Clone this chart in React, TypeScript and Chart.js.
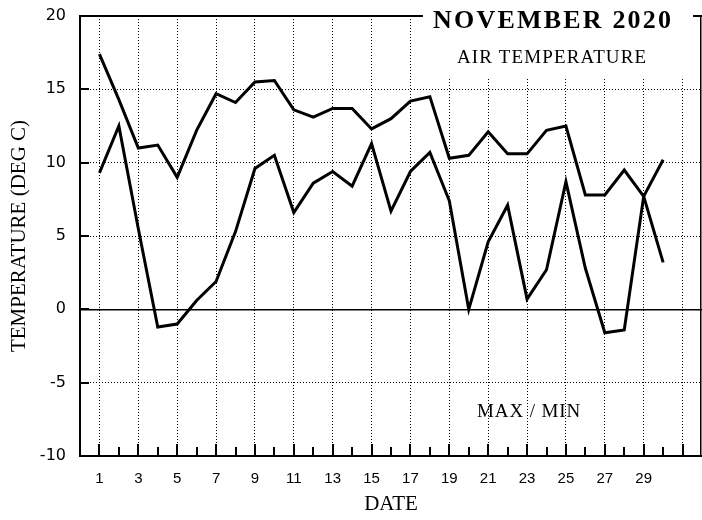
import { useEffect, useRef } from 'react';
import { Chart, registerables } from 'chart.js';

Chart.register(...registerables);

// ---- data ----
const days = [1, 2, 3, 4, 5, 6, 7, 8, 9, 10, 11, 12, 13, 14, 15, 16, 17, 18, 19, 20, 21, 22, 23, 24, 25, 26, 27, 28, 29, 30];
const maxTemp = [17.4, 14.3, 11.0, 11.2, 9.0, 12.2, 14.7, 14.1, 15.5, 15.6, 13.6, 13.1, 13.7, 13.7, 12.3, 13.0, 14.2, 14.5, 10.3, 10.5, 12.1, 10.6, 10.6, 12.2, 12.5, 7.8, 7.8, 9.5, 7.7, 3.2];
const minTemp = [9.3, 12.5, 5.5, -1.2, -1.0, 0.6, 1.9, 5.3, 9.6, 10.5, 6.6, 8.6, 9.4, 8.4, 11.3, 6.7, 9.4, 10.7, 7.4, 0.0, 4.6, 7.1, 0.7, 2.7, 8.7, 2.8, -1.6, -1.4, 7.7, 10.2];
const xTickLabels = [1, 3, 5, 7, 9, 11, 13, 15, 17, 19, 21, 23, 25, 27, 29];
const xGridDays = [1, 3, 5, 7, 9, 11, 13, 15, 17, 19, 21, 23, 25, 27, 29, 31];
const xTickMarkDays = [1, 2, 3, 4, 5, 6, 7, 8, 9, 10, 11, 12, 13, 14, 15, 16, 17, 18, 19, 20, 21, 22, 23, 24, 25, 26, 27, 28, 29, 30, 31];
const yTickMarks = [-5, 0, 5, 10, 15];
const xRange = [0, 32];
const yRange = [-10, 20];
const titleMain = 'NOVEMBER 2020';
const titleSub = 'AIR TEMPERATURE';
const noteText = 'MAX / MIN';
const xTitle = 'DATE';
const yTitle = 'TEMPERATURE (DEG C)';

const SERIF = '"Liberation Serif", "Times New Roman", serif';

const zeroPad = (s: any) => {
  s.paddingLeft = 0;
  s.paddingRight = 0;
  s.paddingTop = 0;
  s.paddingBottom = 0;
};

const decorPlugin = {
  id: 'decor',
  beforeDatasetsDraw(chart: any) {
    const { ctx, chartArea: a, scales } = chart;
    const xs = scales.x;
    const ys = scales.y;
    ctx.save();
    ctx.strokeStyle = '#000';
    ctx.lineWidth = 2;
    // x tick marks (inside, pointing up)
    for (const d of xTickMarkDays) {
      const px = Math.round(xs.getPixelForValue(d));
      const len = d % 2 === 1 ? 12 : 9;
      ctx.beginPath();
      ctx.moveTo(px, a.bottom);
      ctx.lineTo(px, a.bottom - len);
      ctx.stroke();
    }
    // y tick marks (inside, pointing right)
    for (const v of yTickMarks) {
      const py = Math.round(ys.getPixelForValue(v));
      ctx.beginPath();
      ctx.moveTo(a.left, py);
      ctx.lineTo(a.left + 9, py);
      ctx.stroke();
    }
    // top border
    ctx.beginPath();
    ctx.moveTo(a.left - 1, a.top);
    ctx.lineTo(a.right, a.top);
    ctx.stroke();
    // white box behind title
    ctx.fillStyle = '#fff';
    ctx.fillRect(423, 0, 270, 77);
    // right border
    ctx.lineWidth = 1.5;
    ctx.beginPath();
    ctx.moveTo(a.right - 1.25, a.top - 1);
    ctx.lineTo(a.right - 1.25, a.bottom);
    ctx.stroke();
    ctx.restore();
  },
  afterDraw(chart: any) {
    const { ctx } = chart;
    ctx.save();
    ctx.fillStyle = '#000';
    ctx.textAlign = 'left';
    ctx.textBaseline = 'alphabetic';
    ctx.font = `bold 26px ${SERIF}`;
    (ctx as any).letterSpacing = '2.2px';
    ctx.fillText(titleMain, 433, 28);
    ctx.font = `19px ${SERIF}`;
    (ctx as any).letterSpacing = '1.1px';
    ctx.fillText(titleSub, 457, 63);
    (ctx as any).letterSpacing = '0.9px';
    ctx.fillText(noteText, 477, 417);
    (ctx as any).letterSpacing = '0px';
    ctx.restore();
  },
};

export default function App() {
  const ref = useRef<HTMLCanvasElement | null>(null);
  useEffect(() => {
    if (!ref.current) return;
    const chart = new Chart(ref.current, {
      type: 'line',
      data: {
        datasets: [
          {
            label: 'MAX',
            data: days.map((d, i) => ({ x: d, y: maxTemp[i] })),
            borderColor: '#000',
            borderWidth: 3,
            pointRadius: 0,
            tension: 0,
            fill: false,
          },
          {
            label: 'MIN',
            data: days.map((d, i) => ({ x: d, y: minTemp[i] })),
            borderColor: '#000',
            borderWidth: 3,
            pointRadius: 0,
            tension: 0,
            fill: false,
          },
        ],
      },
      options: {
        animation: false,
        responsive: false,
        devicePixelRatio: 1,
        layout: { padding: { top: 16, right: 0, left: 0, bottom: 0 } },
        plugins: { legend: { display: false }, tooltip: { enabled: false }, title: { display: false } },
        scales: {
          x: {
            type: 'linear',
            min: xRange[0],
            max: xRange[1],
            afterFit: (s: any) => { s.height = 64; zeroPad(s); },
            ticks: {
              stepSize: 1,
              autoSkip: false,
              maxRotation: 0,
              minRotation: 0,
              padding: 13.5,
              color: '#000',
              font: { family: '"Liberation Sans", Arial, sans-serif', size: 15 },
              callback: (v: any) => (xTickLabels.includes(Number(v)) ? String(v) : ''),
            },
            grid: {
              drawTicks: false,
              lineWidth: 1,
              color: (c: any) => (c.tick && xGridDays.includes(c.tick.value) ? '#000' : 'rgba(0,0,0,0)'),
            },
            border: { display: true, color: '#000', width: 2, dash: [1, 2] },
            title: {
              display: true,
              text: xTitle,
              color: '#000',
              font: { family: SERIF, size: 21 },
              padding: { top: 0, bottom: 3 },
            },
          },
          y: {
            type: 'linear',
            min: yRange[0],
            max: yRange[1],
            afterFit: (s: any) => { s.width = 80; zeroPad(s); },
            ticks: {
              stepSize: 5,
              padding: 14,
              color: '#000',
              font: { family: '"DejaVu Sans", sans-serif', size: 16 },
            },
            grid: {
              drawTicks: false,
              lineWidth: (c: any) => (c.tick && c.tick.value === 0 ? 1.5 : 1),
              color: (c: any) =>
                c.tick && (c.tick.value === yRange[0] || c.tick.value === yRange[1]) ? 'rgba(0,0,0,0)' : '#000',
            },
            border: {
              display: true,
              color: '#000',
              width: 2,
              dash: (c: any) => (c.tick && c.tick.value === 0 ? [] : [1, 2]),
            },
            title: {
              display: true,
              text: yTitle,
              color: '#000',
              font: { family: SERIF, size: 21 },
              padding: { top: 7, bottom: 0 },
            },
          },
        },
      },
      plugins: [decorPlugin],
    } as any);
    return () => chart.destroy();
  }, []);
  return (
    <div style={{ position: 'absolute', left: 0, top: 0, width: 702, height: 520, background: '#fff' }}>
      <canvas ref={ref} width={702} height={520} style={{ display: 'block' }} />
    </div>
  );
}
